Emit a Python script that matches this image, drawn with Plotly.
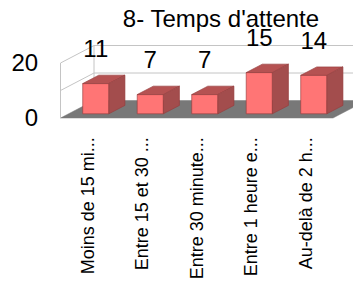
import plotly.graph_objects as go

# ---- data ----
categories = ["Moins de 15 mi...", "Entre 15 et 30 ...", "Entre 30 minute...",
              "Entre 1 heure e...", "Au-delà de 2 h..."]
values = [11, 7, 7, 15, 14]
y_tick_vals = [0, 20]
grid_levels = [10, 20]
title_text = "8- Temps d'attente"

# ---- geometry / style ----
OFF = 8                      # page body margin of the html page
W, H = 361 - OFF, 281 - OFF
ml, mr, mt = 60 - OFF, 0, 40 - OFF
plot_bottom = 122 - OFF
mb = H - plot_bottom
px_per_cat = 54.5
px_per_unit = 2.75
kx = 33.5 / px_per_cat      # depth shift in x units (full depth)
ky = 17.5 / px_per_unit     # depth shift in y units (full depth)
d0, d1 = 0.24, 0.72         # bar front / back depth fraction
bw = 0.48                   # bar width in category units
label_gap = 8.7             # value label offset above bar top (y units)

front_col = "#ff7575"
top_col = "#b55252"
side_col = "#a34d4d"
edge_col = "rgba(150,60,60,0.9)"
floor_col = "#787878"
grid_col = "#c4c4c4"

n = len(categories)
x_lo, x_hi = -0.5, n - 0.5
plot_w = W - ml - mr
plot_h = H - mt - mb
x_range = [x_lo - 0.5 / px_per_cat, x_lo - 0.5 / px_per_cat + plot_w / px_per_cat]
y_bottom = -4 / px_per_unit
y_range = [y_bottom, y_bottom + plot_h / px_per_unit]

fig = go.Figure()

# floor
fig.add_trace(go.Scatter(
    x=[x_lo, x_hi, x_hi + kx, x_lo + kx, x_lo],
    y=[0, 0, ky, ky, 0],
    fill="toself", fillcolor=floor_col, mode="lines",
    line=dict(color=floor_col, width=0.5), hoverinfo="skip", showlegend=False))

# walls / gridlines
wx, wy = [], []
top = max(y_tick_vals)
wx += [x_lo, x_lo, None, x_lo + kx, x_lo + kx, None]
wy += [0, top, None, ky, top + ky, None]
for g in grid_levels:
    wx += [x_lo, x_lo + kx, x_hi + kx + 1, None]
    wy += [g, g + ky, g + ky, None]
fig.add_trace(go.Scatter(x=wx, y=wy, mode="lines", line=dict(color=grid_col, width=1),
                         hoverinfo="skip", showlegend=False, cliponaxis=False))

# bars
for i, v in enumerate(values):
    cx = i + d0 * kx
    b = d0 * ky
    dd = d1 - d0
    l, r = cx - bw / 2, cx + bw / 2
    faces = [
        ([l, r, r, l, l], [b, b, b + v, b + v, b], front_col),
        ([l, r, r + dd * kx, l + dd * kx, l],
         [b + v, b + v, b + v + dd * ky, b + v + dd * ky, b + v], top_col),
        ([r, r + dd * kx, r + dd * kx, r, r],
         [b, b + dd * ky, b + v + dd * ky, b + v, b], side_col),
    ]
    for fx, fy, c in faces:
        fig.add_trace(go.Scatter(x=fx, y=fy, fill="toself", fillcolor=c, mode="lines",
                                 line=dict(color=edge_col, width=0.7),
                                 hoverinfo="skip", showlegend=False))

# value labels
fig.add_trace(go.Scatter(
    x=[i + d0 * kx for i in range(n)],
    y=[v + d1 * ky + label_gap for v in values],
    text=[str(v) for v in values], mode="text",
    textfont=dict(family="Liberation Sans, Arial, sans-serif", size=24, color="black"),
    textposition="middle center", cliponaxis=False, hoverinfo="skip", showlegend=False))

fig.update_layout(
    width=W, height=H,
    margin=dict(l=ml, r=mr, t=mt, b=mb, autoexpand=False),
    paper_bgcolor="white", plot_bgcolor="white",
    font=dict(family="Liberation Sans, Arial, sans-serif", color="black"),
    title=dict(text=title_text, x=(221 - OFF) / W, xanchor="center", xref="container",
               y=1 - (19 - OFF) / H, yanchor="middle", yref="container",
               font=dict(size=24, color="black")),
    xaxis=dict(range=x_range, tickmode="array", tickvals=list(range(n)), ticktext=categories,
               tickangle=-90, tickfont=dict(size=18), showgrid=False, zeroline=False,
               showline=False, ticks="outside", ticklen=4, tickcolor="rgba(0,0,0,0)",
               ticklabelstandoff=3, automargin=False),
    yaxis=dict(range=y_range, tickmode="array", tickvals=y_tick_vals,
               tickfont=dict(size=24), showgrid=False, zeroline=False, showline=False,
               ticks="outside", ticklen=16, tickcolor="rgba(0,0,0,0)", automargin=False),
)

fig.write_html("out.html")
